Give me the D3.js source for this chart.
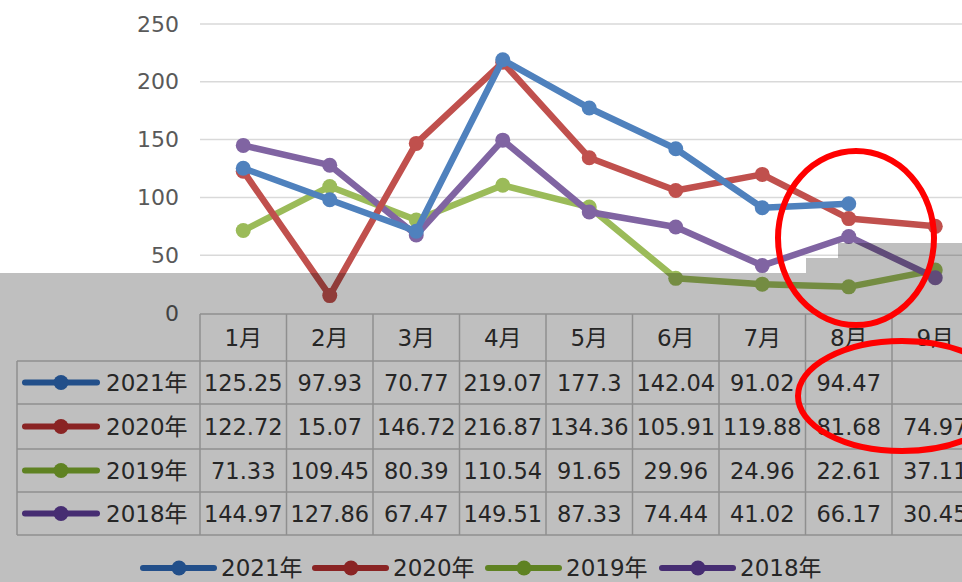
<!DOCTYPE html>
<html><head><meta charset="utf-8">
<script src="https://cdn.jsdelivr.net/npm/d3@7"></script>
<style>
html,body{margin:0;padding:0;background:#fff;overflow:hidden;}
svg{display:block;font-family:"DejaVu Sans","Noto Sans CJK SC",sans-serif;}
</style></head>
<body>
<svg id="c" width="962" height="582"></svg>
<script>
const months = ["1月","2月","3月","4月","5月","6月","7月","8月","9月"];
const seriesNames = ["2021年","2020年","2019年","2018年"];
const v2021 = [125.25, 97.93, 70.77, 219.07, 177.3, 142.04, 91.02, 94.47, null];
const v2020 = [122.72, 15.07, 146.72, 216.87, 134.36, 105.91, 119.88, 81.68, 74.97];
const v2019 = [71.33, 109.45, 80.39, 110.54, 91.65, 29.96, 24.96, 22.61, 37.11];
const v2018 = [144.97, 127.86, 67.47, 149.51, 87.33, 74.44, 41.02, 66.17, 30.45];
const yTicks = [0, 50, 100, 150, 200, 250];

const seriesValues = [v2021, v2020, v2019, v2018];
const colors = ["#4F81BD", "#C0504D", "#9BBB59", "#8064A2"];
const darkColors = ["#2E6AB8", "#B83030", "#7FAE2E", "#5E3C98"];

const svg = d3.select("#c");
const W = 962, H = 582;

const x = d3.scaleBand().domain(months).range([200, 978.5]).paddingInner(0).paddingOuter(0);
const y = d3.scaleLinear().domain([0, 250]).range([313, 24]);

// gridlines
svg.append("g").selectAll("line").data(yTicks.filter(d => d > 0)).join("line")
  .attr("x1", 200).attr("x2", W).attr("y1", d => y(d)).attr("y2", d => y(d))
  .attr("stroke", "#d9d9d9").attr("stroke-width", 1.5);

// y axis labels
const yAxis = d3.axisLeft(y).tickValues(yTicks).tickSize(0).tickPadding(0);
const ga = svg.append("g").attr("transform", "translate(179,0)").call(yAxis);
ga.select(".domain").remove();
ga.selectAll("text").attr("font-size", 22).attr("fill", "#595959")
  .attr("font-family", "DejaVu Sans, sans-serif");

// table
const rowY = [314, 361, 404, 449, 492, 535];
const tg = svg.append("g");
const gridCol = "#bfbfbf";
const txtCol = "#333333";
tg.append("line").attr("x1", 200).attr("x2", W).attr("y1", rowY[0]).attr("y2", rowY[0]).attr("stroke", gridCol).attr("stroke-width", 1.5);
tg.selectAll("line.h").data(rowY.slice(1)).join("line").attr("class", "h")
  .attr("x1", 17).attr("x2", W).attr("y1", d => d).attr("y2", d => d)
  .attr("stroke", gridCol).attr("stroke-width", 1.5);
tg.selectAll("line.v").data(months).join("line").attr("class", "v")
  .attr("x1", d => x(d)).attr("x2", d => x(d)).attr("y1", rowY[0]).attr("y2", rowY[5])
  .attr("stroke", gridCol).attr("stroke-width", 1.5);
tg.append("line").attr("x1", 17).attr("x2", 17).attr("y1", rowY[1]).attr("y2", rowY[5]).attr("stroke", gridCol).attr("stroke-width", 1.5);

// month header
tg.selectAll("text.m").data(months).join("text").attr("class", "m")
  .attr("x", d => x(d) + x.bandwidth() / 2).attr("y", (rowY[0] + rowY[1]) / 2)
  .attr("text-anchor", "middle").attr("dominant-baseline", "central")
  .attr("font-size", 23).attr("fill", txtCol).text(d => d);

// rows
seriesNames.forEach((name, i) => {
  const cy = (rowY[i + 1] + rowY[i + 2]) / 2;
  tg.append("line").attr("x1", 25).attr("x2", 97).attr("y1", cy).attr("y2", cy)
    .attr("stroke", darkColors[i]).attr("stroke-width", 6).attr("stroke-linecap", "round");
  tg.append("circle").attr("cx", 61).attr("cy", cy).attr("r", 7.5).attr("fill", darkColors[i]);
  tg.append("text").attr("x", 106).attr("y", cy).attr("dominant-baseline", "central")
    .attr("font-size", 23).attr("fill", txtCol).text(name);
  tg.selectAll(null).data(months).join("text")
    .attr("x", d => x(d) + x.bandwidth() / 2).attr("y", cy)
    .attr("text-anchor", "middle").attr("dominant-baseline", "central")
    .attr("font-size", 22.5).attr("fill", txtCol)
    .text((d, j) => seriesValues[i][j] == null ? "" : String(seriesValues[i][j]));
});

// lines (draw so 2021 ends on top)
const line = d3.line().defined(d => d.v != null)
  .x(d => x(d.m) + x.bandwidth() / 2).y(d => y(d.v));
const order = [2, 3, 1, 0];
order.forEach(i => {
  const pts = months.map((m, j) => ({m, v: seriesValues[i][j]}));
  const g = svg.append("g");
  g.append("path").datum(pts).attr("d", line).attr("fill", "none")
    .attr("stroke", colors[i]).attr("stroke-width", 6.5).attr("stroke-linejoin", "round");
  g.selectAll("circle").data(pts.filter(d => d.v != null)).join("circle")
    .attr("cx", d => x(d.m) + x.bandwidth() / 2).attr("cy", d => y(d.v))
    .attr("r", 7.5).attr("fill", colors[i]);
});

// bottom legend
const legX = [143, 315, 488, 662];
seriesNames.forEach((name, i) => {
  const ly = 568;
  svg.append("line").attr("x1", legX[i]).attr("x2", legX[i] + 71).attr("y1", ly).attr("y2", ly)
    .attr("stroke", darkColors[i]).attr("stroke-width", 6).attr("stroke-linecap", "round");
  svg.append("circle").attr("cx", legX[i] + 36).attr("cy", ly).attr("r", 7.5).attr("fill", darkColors[i]);
  svg.append("text").attr("x", legX[i] + 78).attr("y", ly).attr("dominant-baseline", "central")
    .attr("font-size", 23).attr("fill", txtCol).text(name);
});

// grey overlay
svg.append("path")
  .attr("d", "M0,273 L806,273 L806,258 L838,258 L838,243 L962,243 L962,582 L0,582 Z")
  .attr("fill", "#000").attr("fill-opacity", 0.25);

// red annotation ellipses
svg.append("ellipse").attr("cx", 856).attr("cy", 238).attr("rx", 78).attr("ry", 87)
  .attr("fill", "none").attr("stroke", "#ff0000").attr("stroke-width", 6);
svg.append("ellipse").attr("cx", 902).attr("cy", 396).attr("rx", 104).attr("ry", 55)
  .attr("fill", "none").attr("stroke", "#ff0000").attr("stroke-width", 6);
</script>
</body></html>
